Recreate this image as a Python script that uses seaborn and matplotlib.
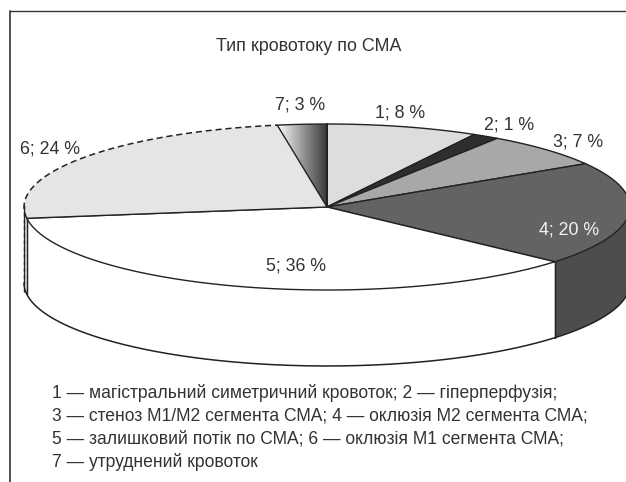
import numpy as np
import seaborn as sns
import matplotlib.pyplot as plt
from matplotlib.colors import LinearSegmentedColormap

sns.set_theme(style="white")
plt.rcParams["font.family"] = ["Liberation Sans", "DejaVu Sans"]

# Data
categories = ["1", "2", "3", "4", "5", "6", "7"]
percents = [8, 1, 7, 20, 36, 24, 3]
# slice sizes as drawn in the picture (the printed percents are rounded)
values = [8, 1.4, 6.7, 20, 36, 24.3, 2.6]
colors = ["#dcddde", "#2f2d2e", "#a7a8aa", "#636365", "#ffffff", "#e4e5e6", "#888888"]
title = "Тип кровотоку по СМА"
legend_lines = [
    "1 — магістральний симетричний кровоток; 2 — гіперперфузія;",
    "3 — стеноз М1/М2 сегмента СМА; 4 — оклюзія М2 сегмента СМА;",
    "5 — залишковий потік по СМА; 6 — оклюзія М1 сегмента СМА;",
    "7 — утруднений кровоток",
]
label_pos = [(400, 113), (509, 125), (578, 142), (569, 230), (296, 266), (50, 149), (300, 105)]

# Pie geometry
cx, cy = 327, 207
rx, ry = 303, 83
depth = 76
ink = "#222222"
text_color = "#333333"


def rim(a0, a1, n=200):
    t = np.radians(np.linspace(a0, a1, n))
    return cx + rx * np.sin(t), cy - ry * np.cos(t)


fig = plt.figure(figsize=(6.26, 4.82), dpi=100)
ax = fig.add_axes([0, 0, 1, 1])
ax.set_xlim(0, 626)
ax.set_ylim(482, 0)
ax.axis("off")

edges = np.cumsum([0] + values) / sum(values) * 360

# Frame
ax.plot([10, 10], [482, 11], color="#444444", lw=1.3)
ax.plot([10, 626], [11, 11], color="#333333", lw=1.0)

# Side walls (front half only)
for i, (a0, a1) in enumerate(zip(edges[:-1], edges[1:])):
    lo, hi = max(a0, 90), min(a1, 270)
    if lo >= hi:
        continue
    x, y = rim(lo, hi)
    wall = "#4d4d4f" if i == 3 else colors[i]
    ax.fill(np.r_[x, x[::-1]], np.r_[y, y[::-1] + depth], color=wall, lw=0, zorder=1)
    ax.plot(x, y + depth, color=ink, lw=1.1, zorder=3)
    ax.plot([x[0], x[0]], [y[0], y[0] + depth], color=ink, lw=0.9, zorder=3)
    ax.plot([x[-1], x[-1]], [y[-1], y[-1] + depth], color=ink, lw=0.9, zorder=3)

# Dashed left edge of slice 6
ax.plot([24, 24], [205, 292], color=ink, lw=1.0, ls=(0, (3, 2)), zorder=4)

# Top faces
for i, (a0, a1) in enumerate(zip(edges[:-1], edges[1:])):
    x, y = rim(a0, a1)
    px, py = np.r_[cx, x, cx], np.r_[cy, y, cy]
    if categories[i] == "7":
        cmap = LinearSegmentedColormap.from_list("g", ["#ffffff", "#9a9a9c", "#3a3a3c"])
        grad = np.linspace(0, 1, 256).reshape(1, -1)
        im = ax.imshow(grad, cmap=cmap, extent=(x.min(), cx, cy, y.min()), aspect="auto", zorder=2)
        patch = ax.fill(px, py, facecolor="none", edgecolor="none", zorder=2)[0]
        im.set_clip_path(patch)
        ax.plot(px[[0, 1]], py[[0, 1]], color=ink, lw=1.0, zorder=4)
        ax.plot(x, y, color=ink, lw=1.0, zorder=4)
        ax.plot([cx, cx], [cy, y.min()], color=ink, lw=1.4, zorder=4)
    elif categories[i] == "6":
        ax.fill(px, py, color=colors[i], lw=0, zorder=2)
        ax.plot(x, y, color=ink, lw=1.1, ls=(0, (4, 2.5)), zorder=4)
        ax.plot(px[[0, 1]], py[[0, 1]], color=ink, lw=1.0, zorder=4)
    else:
        ax.fill(px, py, facecolor=colors[i], edgecolor=ink, lw=1.0, zorder=2)
ax.set_xlim(0, 626)
ax.set_ylim(482, 0)

# Labels
for c, v, (lx, ly) in zip(categories, percents, label_pos):
    ax.text(lx, ly, f"{c}; {v} %", ha="center", va="center", fontsize=12.8,
            color="#f2f2f2" if c == "4" else text_color, zorder=5)

ax.text(309, 46.5, title, ha="center", va="center", fontsize=12.9, color=text_color)
for line, ly in zip(legend_lines, [393, 416, 439, 462]):
    ax.text(52, ly, line, ha="left", va="center", fontsize=12.65, color=text_color)

fig.savefig("out.png", dpi=100)
